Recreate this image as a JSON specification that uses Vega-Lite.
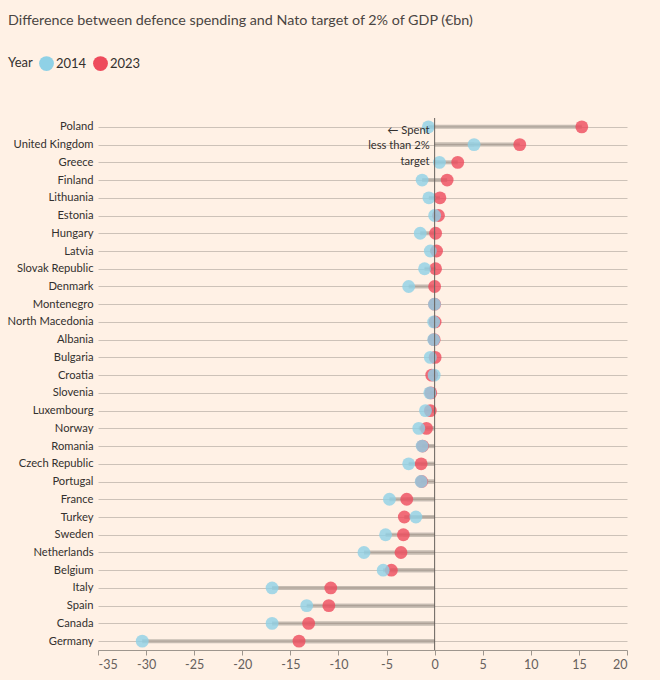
{
  "$schema": "https://vega.github.io/schema/vega-lite/v6.json",
  "autosize": "none",
  "width": 529,
  "height": 532,
  "padding": {"left": 98, "top": 118, "right": 33, "bottom": 30},
  "background": "#fff1e5",
  "title": {
    "text": "Difference between defence spending and Nato target of 2% of GDP (€bn)",
    "anchor": "start",
    "frame": "group",
    "dx": -90,
    "offset": 28,
    "fontSize": 14.3,
    "fontWeight": "normal",
    "font": "Lato",
    "color": "#4a4542"
  },
  "config": {
    "view": {"stroke": null},
    "font": "Lato"
  },
  "datasets": {
    "spend": [
      {"country": "Poland", "2014": -0.65, "2023": 15.3},
      {"country": "United Kingdom", "2014": 4.1, "2023": 8.85},
      {"country": "Greece", "2014": 0.5, "2023": 2.4},
      {"country": "Finland", "2014": -1.3, "2023": 1.3},
      {"country": "Lithuania", "2014": -0.6, "2023": 0.55},
      {"country": "Estonia", "2014": 0.0, "2023": 0.4},
      {"country": "Hungary", "2014": -1.5, "2023": 0.1},
      {"country": "Latvia", "2014": -0.45, "2023": 0.2},
      {"country": "Slovak Republic", "2014": -1.05, "2023": 0.1},
      {"country": "Denmark", "2014": -2.7, "2023": 0.0},
      {"country": "Montenegro", "2014": -0.02, "2023": 0.0},
      {"country": "North Macedonia", "2014": -0.1, "2023": 0.05},
      {"country": "Albania", "2014": -0.1, "2023": -0.05},
      {"country": "Bulgaria", "2014": -0.45, "2023": 0.05},
      {"country": "Croatia", "2014": -0.05, "2023": -0.3},
      {"country": "Slovenia", "2014": -0.5, "2023": -0.4},
      {"country": "Luxembourg", "2014": -0.95, "2023": -0.45},
      {"country": "Norway", "2014": -1.65, "2023": -0.85},
      {"country": "Romania", "2014": -1.3, "2023": -1.25},
      {"country": "Czech Republic", "2014": -2.7, "2023": -1.4},
      {"country": "Portugal", "2014": -1.4, "2023": -1.35},
      {"country": "France", "2014": -4.7, "2023": -2.9},
      {"country": "Turkey", "2014": -1.95, "2023": -3.15},
      {"country": "Sweden", "2014": -5.1, "2023": -3.25},
      {"country": "Netherlands", "2014": -7.35, "2023": -3.5},
      {"country": "Belgium", "2014": -5.35, "2023": -4.5},
      {"country": "Italy", "2014": -16.9, "2023": -10.8},
      {"country": "Spain", "2014": -13.3, "2023": -11.0},
      {"country": "Canada", "2014": -16.9, "2023": -13.1},
      {"country": "Germany", "2014": -30.4, "2023": -14.1}
    ]
  },
  "layer": [
    {
      "data": {"name": "spend"},
      "transform": [{"fold": ["2023", "2014"], "as": ["year", "value"]}],
      "mark": {"type": "rule", "strokeWidth": 4, "color": "#c6bcb2"},
      "encoding": {
        "y": {
          "field": "country",
          "type": "nominal",
          "sort": null,
          "scale": {"type": "point", "padding": 0.5},
          "axis": {
            "title": null,
            "grid": true,
            "gridColor": "#cdc2b8",
            "gridWidth": 1,
            "domain": false,
            "ticks": false,
            "labelPadding": 5,
            "labelFontSize": 11.2,
            "labelColor": "#33302e",
            "labelFont": "Lato"
          }
        },
        "x": {
          "field": "value",
          "type": "quantitative",
          "scale": {"domain": [-35, 20], "nice": false, "zero": false},
          "axis": {
            "title": null,
            "values": [-35, -30, -25, -20, -15, -10, -5, 0, 5, 10, 15, 20],
            "labelExpr": "'' + datum.value",
            "grid": false,
            "domain": true,
            "domainColor": "#9e968e",
            "tickColor": "#9e968e",
            "tickSize": 5,
            "labelPadding": 3,
            "labelFontSize": 12.5,
            "labelColor": "#66605c",
            "labelFont": "Lato"
          }
        },
        "x2": {"datum": 0}
      }
    },
    {
      "data": {"name": "spend"},
      "transform": [{"fold": ["2023", "2014"], "as": ["year", "value"]}],
      "mark": {"type": "rule", "strokeWidth": 1, "color": "#ada298"},
      "encoding": {
        "y": {"field": "country", "type": "nominal", "sort": null},
        "x": {"field": "value", "type": "quantitative"},
        "x2": {"datum": 0}
      }
    },
    {
      "data": {"name": "spend"},
      "transform": [{"fold": ["2023", "2014"], "as": ["year", "value"]}],
      "mark": {"type": "circle", "size": 165, "opacity": 0.8},
      "encoding": {
        "y": {"field": "country", "type": "nominal", "sort": null},
        "x": {"field": "value", "type": "quantitative"},
        "color": {
          "field": "year",
          "type": "nominal",
          "scale": {"domain": ["2014", "2023"], "range": ["#8fd1e6", "#ee4b5c"]},
          "legend": {
            "title": "Year",
            "orient": "none",
            "legendX": -90,
            "legendY": -62,
            "direction": "horizontal",
            "titleOrient": "left",
            "titleFontSize": 13,
            "titleFontWeight": "normal",
            "titleColor": "#33302e",
            "titlePadding": 6,
            "labelFontSize": 13,
            "labelColor": "#33302e",
            "labelOffset": 2,
            "columnPadding": 6,
            "symbolType": "circle",
            "symbolSize": 220,
            "symbolOpacity": 1,
            "symbolStrokeWidth": 0
          }
        }
      }
    },
    {
      "data": {"values": [{"v": 0}]},
      "mark": {"type": "rule", "color": "#66605c", "strokeWidth": 1},
      "encoding": {
        "x": {"field": "v", "type": "quantitative"}
      }
    },
    {
      "data": {"values": [{"v": 0, "c": "United Kingdom"}]},
      "mark": {
        "type": "text",
        "align": "right",
        "baseline": "middle",
        "dx": -5,
        "dy": -14,
        "fontSize": 11.2,
        "lineHeight": 15.5,
        "color": "#33302e",
        "font": "Lato"
      },
      "encoding": {
        "x": {"field": "v", "type": "quantitative"},
        "y": {"field": "c", "type": "nominal", "sort": null},
        "text": {"value": ["← Spent", "less than 2%", "target"]}
      }
    }
  ]
}
